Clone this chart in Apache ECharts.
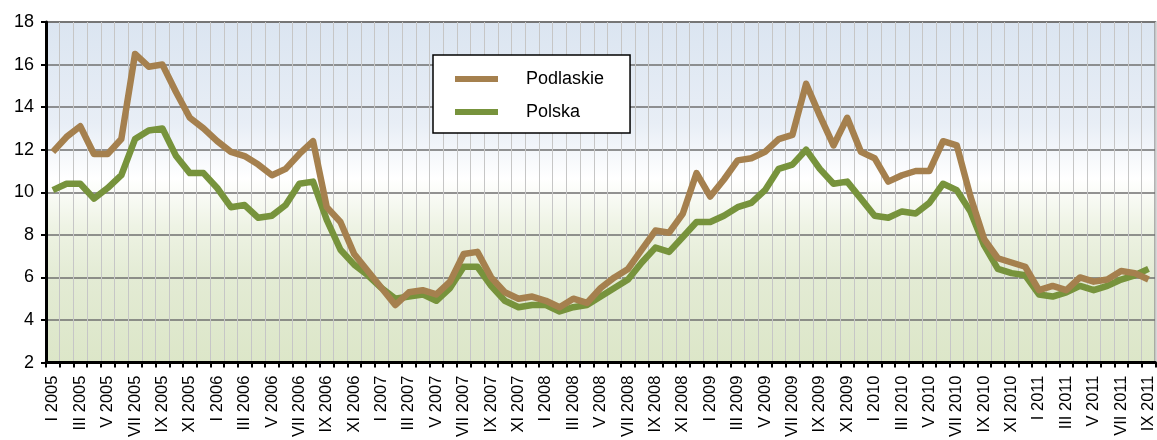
<!DOCTYPE html>
<html>
<head>
<meta charset="utf-8">
<script src="https://cdn.jsdelivr.net/npm/echarts@6/dist/echarts.min.js"></script>
<style>
  html, body { margin: 0; padding: 0; background: #fff; }
  #chart { width: 1157px; height: 440px; }
</style>
</head>
<body>
<div id="chart"></div>
<script>
  // miesiące i lata
  const months = ['I', 'II', 'III', 'IV', 'V', 'VI', 'VII', 'VIII', 'IX', 'X', 'XI', 'XII']
  const years = [2005, 2006, 2007, 2008, 2009, 2010, 2011]
  const lastMonth = 9 // IX 2011
  const yTicks = [2, 4, 6, 8, 10, 12, 14, 16, 18]

  const categories = []
  years.forEach(y => {
    months.forEach((m, i) => {
      if (y === 2011 && i >= lastMonth) return
      categories.push(m + ' ' + y)
    })
  })

  // stopa bezrobocia (%)
  const podlaskie = [
    11.9, 12.6, 13.1, 11.8, 11.8, 12.5, 16.5, 15.9, 16.0, 14.7, 13.5, 13.0,
    12.4, 11.9, 11.7, 11.3, 10.8, 11.1, 11.8, 12.4, 9.3, 8.6, 7.1, 6.3,
    5.5, 4.7, 5.3, 5.4, 5.2, 5.8, 7.1, 7.2, 6.0, 5.3, 5.0, 5.1,
    4.9, 4.6, 5.0, 4.8, 5.5, 6.0, 6.4, 7.3, 8.2, 8.1, 9.0, 10.9,
    9.8, 10.6, 11.5, 11.6, 11.9, 12.5, 12.7, 15.1, 13.6, 12.2, 13.5, 11.9,
    11.6, 10.5, 10.8, 11.0, 11.0, 12.4, 12.2, 9.8, 7.8, 6.9, 6.7, 6.5,
    5.4, 5.6, 5.4, 6.0, 5.8, 5.9, 6.3, 6.2, 5.9
  ]
  const polska = [
    10.1, 10.4, 10.4, 9.7, 10.2, 10.8, 12.5, 12.9, 13.0, 11.7, 10.9, 10.9,
    10.2, 9.3, 9.4, 8.8, 8.9, 9.4, 10.4, 10.5, 8.7, 7.3, 6.6, 6.1,
    5.5, 5.0, 5.1, 5.2, 4.9, 5.5, 6.5, 6.5, 5.6, 4.9, 4.6, 4.7,
    4.7, 4.4, 4.6, 4.7, 5.1, 5.5, 5.9, 6.7, 7.4, 7.2, 7.9, 8.6,
    8.6, 8.9, 9.3, 9.5, 10.1, 11.1, 11.3, 12.0, 11.1, 10.4, 10.5, 9.7,
    8.9, 8.8, 9.1, 9.0, 9.5, 10.4, 10.1, 9.1, 7.5, 6.4, 6.2, 6.1,
    5.2, 5.1, 5.3, 5.6, 5.4, 5.6, 5.9, 6.1, 6.4
  ]

  const chart = echarts.init(document.getElementById('chart'), null, { renderer: 'canvas' })
  const font = '"Liberation Sans", Arial, sans-serif'

  chart.setOption({
    animation: false,
    textStyle: { fontFamily: font },
    grid: {
      left: 46,
      right: 1,
      top: 22,
      bottom: 77,
      show: true,
      borderColor: '#8c8c8c',
      borderWidth: 2,
      backgroundColor: {
        type: 'linear', x: 0, y: 0, x2: 0, y2: 1,
        colorStops: [
          { offset: 0, color: '#dbe5f1' },
          { offset: 0.3, color: '#e8eef6' },
          { offset: 0.46, color: '#ffffff' },
          { offset: 0.6, color: '#eef3e4' },
          { offset: 0.75, color: '#e3ebd4' },
          { offset: 1, color: '#dce6c8' }
        ]
      }
    },
    legend: {
      data: ['Podlaskie', 'Polska'],
      orient: 'vertical',
      left: 433,
      top: 55,
      backgroundColor: '#fff',
      borderColor: '#000',
      borderWidth: 1.5,
      padding: [15, 26, 12, 22],
      itemGap: 15,
      itemWidth: 43,
      itemHeight: 6,
      icon: 'rect',
      textStyle: {
        fontFamily: font,
        fontSize: 18,
        color: '#000',
        padding: [0, 0, 0, 23]
      }
    },
    xAxis: {
      type: 'category',
      data: categories,
      boundaryGap: true,
      axisLine: { lineStyle: { color: '#000', width: 3 } },
      axisTick: { show: true, interval: 0, length: 5, lineStyle: { color: '#000', width: 2 } },
      splitLine: { show: true, interval: 0, lineStyle: { color: '#c6c6c6', width: 1 } },
      axisLabel: {
        interval: 1,
        rotate: 90,
        margin: 13,
        fontSize: 16.5,
        color: '#000',
        fontFamily: font
      }
    },
    yAxis: {
      type: 'value',
      min: yTicks[0],
      max: yTicks[yTicks.length - 1],
      interval: 2,
      axisLine: { show: true, lineStyle: { color: '#000', width: 3 } },
      axisTick: { show: true, length: 5, lineStyle: { color: '#000', width: 2 } },
      splitLine: { show: true, lineStyle: { color: '#6f6f6f', width: 1.5 } },
      axisLabel: {
        margin: 12,
        fontSize: 18,
        color: '#000',
        fontFamily: font
      }
    },
    series: [
      {
        name: 'Polska',
        type: 'line',
        data: polska,
        showSymbol: false,
        symbol: 'none',
        lineStyle: { color: '#77933c', width: 6.5, join: 'round' },
        itemStyle: { color: '#77933c' }
      },
      {
        name: 'Podlaskie',
        type: 'line',
        data: podlaskie,
        showSymbol: false,
        symbol: 'none',
        lineStyle: { color: '#a5804e', width: 6.5, join: 'round' },
        itemStyle: { color: '#a5804e' }
      }
    ]
  })
</script>
</body>
</html>
